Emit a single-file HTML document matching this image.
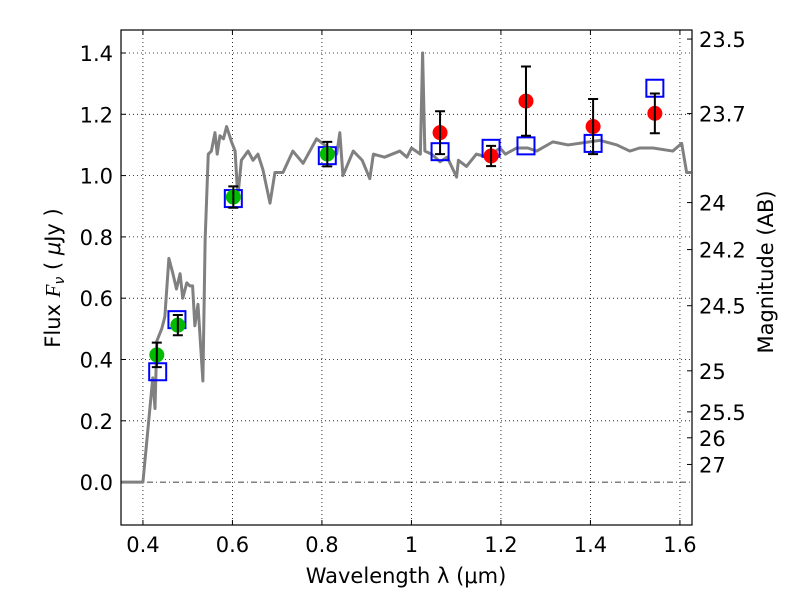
<!DOCTYPE html>
<html><head><meta charset="utf-8"><style>
body{margin:0;background:#fff;}
svg text{font-family:"DejaVu Sans","Liberation Sans",sans-serif;fill:#000;}
</style></head><body>
<svg id="c" width="800" height="600" xmlns="http://www.w3.org/2000/svg"></svg>
<script>
const specLam=[0.35,0.40,0.422,0.427,0.431,0.442,0.449,0.458,0.467,0.475,0.483,0.489,0.498,0.505,0.511,0.516,0.523,0.534,0.539,0.546,0.553,0.561,0.566,0.572,0.58,0.587,0.598,0.606,0.612,0.62,0.635,0.646,0.657,0.668,0.684,0.695,0.713,0.735,0.758,0.788,0.833,0.84,0.847,0.87,0.89,0.907,0.915,0.94,0.974,0.99,1.0,1.02,1.025,1.03,1.045,1.064,1.08,1.101,1.105,1.123,1.145,1.17,1.198,1.21,1.235,1.26,1.28,1.316,1.35,1.421,1.459,1.488,1.51,1.54,1.584,1.604,1.615,1.625];
const specFlux=[0,0,0.34,0.24,0.46,0.50,0.54,0.73,0.68,0.63,0.68,0.60,0.65,0.64,0.64,0.51,0.58,0.33,0.79,1.07,1.08,1.14,1.07,1.13,1.12,1.16,1.11,1.08,0.93,1.05,1.08,1.05,1.07,1.02,0.91,1.01,1.01,1.08,1.04,1.12,1.07,1.14,1.0,1.08,1.05,0.99,1.07,1.06,1.08,1.06,1.09,1.07,1.40,1.08,1.07,1.045,1.06,0.995,1.05,1.03,1.07,1.06,1.09,1.07,1.09,1.09,1.08,1.11,1.10,1.115,1.10,1.08,1.09,1.09,1.08,1.105,1.01,1.01];
const greenLam=[0.431,0.478,0.602,0.812];
const greenFlux=[0.415,0.512,0.93,1.07];
const greenErr=[0.04,0.033,0.035,0.04];
const redLam=[1.064,1.178,1.256,1.406,1.544];
const redFlux=[1.14,1.064,1.243,1.16,1.203];
const redErr=[0.07,0.033,0.113,0.09,0.065];
const modelLam=[0.433,0.476,0.602,0.812,1.064,1.178,1.256,1.406,1.544];
const modelFlux=[0.36,0.53,0.925,1.065,1.078,1.089,1.097,1.105,1.285];
const xTicks=[0.4,0.6,0.8,1.0,1.2,1.4,1.6];
const xTickLabels=["0.4","0.6","0.8","1","1.2","1.4","1.6"];
const yTicks=[0,0.2,0.4,0.6,0.8,1.0,1.2,1.4];
const yTickLabels=["0.0","0.2","0.4","0.6","0.8","1.0","1.2","1.4"];
const magTicks=[23.5,23.7,24,24.2,24.5,25,25.5,26,27];
const magLabels=["23.5","23.7","24","24.2","24.5","25","25.5","26","27"];

const L=121,R=692,T=30,B=525,x0=0.351,x1=1.627,y0=-0.14,y1=1.475;
const X=v=>L+(v-x0)/(x1-x0)*(R-L);
const Y=v=>B-(v-y0)/(y1-y0)*(B-T);
const svg=document.getElementById('c');
const NS='http://www.w3.org/2000/svg';
function mk(tag,at,parent){const e=document.createElementNS(NS,tag);for(const k in at)e.setAttribute(k,at[k]);(parent||svg).appendChild(e);return e;}

xTicks.forEach((t,i)=>{
  const g=mk('line',{x1:X(t),x2:X(t),y1:T,y2:B,stroke:'#000','stroke-width':0.8,'stroke-dasharray':'1,3'});
  
  
  mk('line',{x1:X(t),x2:X(t),y1:B,y2:B-5,stroke:'#000'});
  mk('line',{x1:X(t),x2:X(t),y1:T,y2:T+5,stroke:'#000'});
  const tx=mk('text',{x:X(t),y:B+27,'font-size':21,'text-anchor':'middle'});
  tx.textContent=xTickLabels[i];
  
  
});
yTicks.forEach((t,i)=>{
  const g=mk('line',{x1:L,x2:R,y1:Y(t),y2:Y(t),stroke:'#000','stroke-width':0.8,'stroke-dasharray':t===0?'6,3,1,3':'1,3'});
  
  
  mk('line',{x1:L,x2:L+5,y1:Y(t),y2:Y(t),stroke:'#000'});
  const tx=mk('text',{x:L-8,y:Y(t)+8,'font-size':21,'text-anchor':'end'});
  tx.textContent=yTickLabels[i];
  
  
});
magTicks.forEach((m,i)=>{
  const f=Math.pow(10,(23.9-m)/2.5);
  mk('line',{x1:R,x2:R-5,y1:Y(f),y2:Y(f),stroke:'#000'});
  const tx=mk('text',{x:R+7,y:Y(f)+8,'font-size':21});
  tx.textContent=magLabels[i];
  
  
});

const sp=mk('polyline',{points:specLam.map((l,i)=>X(l)+','+Y(specFlux[i])).join(' '),fill:'none',stroke:'#808080','stroke-width':3,'stroke-linejoin':'round'});



modelLam.forEach((l,i)=>{
  const r=mk('rect',{x:X(l)-8.5,y:Y(modelFlux[i])-8.5,width:17,height:17,fill:'none',stroke:'#0000ff','stroke-width':2});
  
  
});
function pts(lam,flux,err,col,name){
  lam.forEach((l,i)=>{
    const c=mk('circle',{cx:X(l),cy:Y(flux[i]),r:7.5,fill:col});
    
    
    const x=X(l),a=Y(flux[i]+err[i]),b=Y(flux[i]-err[i]);
    const e=mk('path',{d:`M${x},${a}V${b}M${x-5},${a}H${x+5}M${x-5},${b}H${x+5}`,stroke:'#000','stroke-width':2,fill:'none'});
    
    
  });
}
pts(greenLam,greenFlux,greenErr,'#00bb00','optical-flux-point');
pts(redLam,redFlux,redErr,'#ff0000','nir-flux-point');

const fr=mk('rect',{x:L,y:T,width:R-L,height:B-T,fill:'none',stroke:'#000','stroke-width':1.2});


</script>
<svg width="800" height="600" style="position:absolute;left:0;top:0" xmlns="http://www.w3.org/2000/svg">
<text x="406" y="583" font-size="21" text-anchor="middle">Wavelength  λ (μm)</text>
<text transform="translate(60,278) rotate(-90)" font-size="21" text-anchor="middle">Flux  <tspan font-style="italic" font-family="Liberation Serif">F</tspan><tspan font-style="italic" font-size="14" dy="4">ν</tspan><tspan dy="-4">  ( </tspan><tspan font-style="italic">μ</tspan>Jy )</text>
<text transform="translate(773,272) rotate(-90)" font-size="21" text-anchor="middle">Magnitude (AB)</text>
</svg>
</body></html>
